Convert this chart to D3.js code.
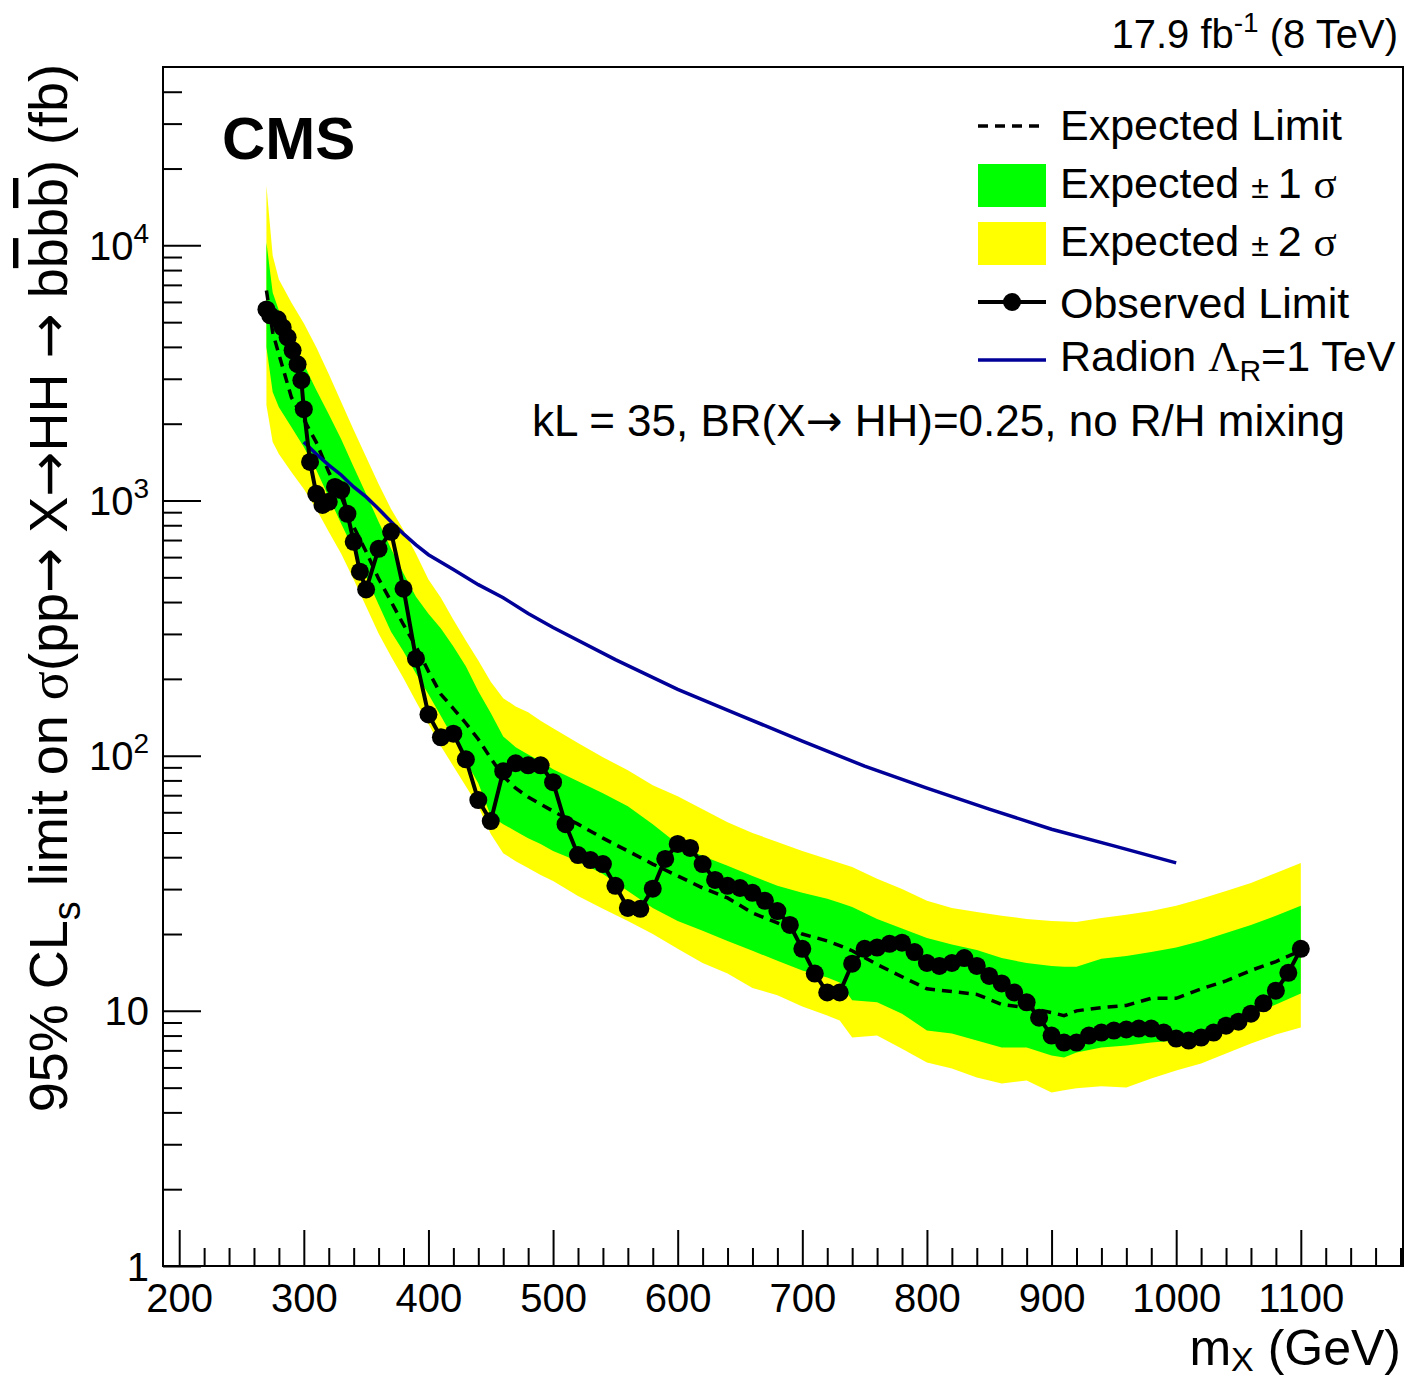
<!DOCTYPE html>
<html lang="en">
<head>
<meta charset="utf-8">
<title>CMS X to HH to bbbb limit</title>
<script src="https://d3js.org/d3.v7.min.js"></script>
<style>
body { margin: 0; background: #fff; }
text { font-family: "Liberation Sans", Arial, Helvetica, sans-serif; fill: #000; }
.axis path { display: none; }
.axis line { stroke: #000; stroke-width: 2; }
</style>
</head>
<body>
<script>
// observed limit (fb) vs m_X (GeV)
var obsMass = [270, 273, 279, 283, 287, 291, 295, 298, 300, 305, 310, 315, 320, 325, 330, 335, 340, 345, 350,
  360, 370, 380, 390, 400, 410, 420, 430, 440, 450, 460, 470, 480, 490, 500, 510, 520, 530, 540, 550,
  560, 570, 580, 590, 600, 610, 620, 630, 640, 650, 660, 670, 680, 690, 700, 710, 720, 730, 740, 750,
  760, 770, 780, 790, 800, 810, 820, 830, 840, 850, 860, 870, 880, 890, 900, 910, 920, 930, 940, 950,
  960, 970, 980, 990, 1000, 1010, 1020, 1030, 1040, 1050, 1060, 1070, 1080, 1090, 1100];
var obsLimit = [5610, 5320, 5130, 4770, 4360, 3880, 3420, 2960, 2280, 1416, 1062, 961, 988, 1130, 1099, 887, 689, 526, 448,
  647, 754, 451, 240, 145, 118, 122, 96.8, 67, 55.4, 86.9, 93.4, 91.7, 91.7, 78.7, 53.9, 40.8, 39.0, 37.6, 30.9,
  25.3, 25.1, 30.1, 39.4, 45.1, 43.5, 37.6, 32.6, 30.9, 30.3, 29.0, 27.0, 24.6, 21.7, 17.5, 14.0, 11.8, 11.8, 15.3, 17.5,
  17.7, 18.3, 18.5, 17.0, 15.4, 15.0, 15.4, 16.1, 15.0, 13.7, 12.8, 11.8, 10.8, 9.40, 8.00, 7.51, 7.51, 8.00, 8.22, 8.37,
  8.45, 8.52, 8.52, 8.22, 7.79, 7.65, 7.86, 8.22, 8.75, 9.07, 9.75, 10.7, 12.0, 14.1, 17.5];

// expected limit and bands, on their own mass grid
var expMass = [270, 275, 280, 290, 300, 310, 320, 330, 340, 350, 360, 370, 380, 390, 400, 410, 420, 430, 440, 450,
  460, 470, 480, 490, 500, 520, 540, 560, 580, 600, 620, 640, 660, 680, 700, 720, 730, 740, 760, 780,
  800, 820, 840, 860, 880, 900, 910, 920, 940, 960, 980, 1000, 1020, 1040, 1060, 1080, 1100];
var expLimit = [6660, 4560, 3740, 2540, 2080, 1690, 1294, 1033, 789, 630, 494, 402, 326, 268, 214, 174, 153, 134, 116, 97.7,
  83.0, 74.6, 68.8, 64.6, 60.6, 53.9, 47.5, 42.3, 37.6, 33.8, 30.3, 27.7, 24.2, 22.1, 20.0, 18.8, 18.0, 17.2, 15.2, 13.6,
  12.2, 11.9, 11.6, 10.6, 10.3, 9.84, 9.58, 10.0, 10.3, 10.5, 11.2, 11.2, 12.2, 13.1, 14.4, 15.6, 17.2];
var exp1Up = [10260, 6540, 5560, 4360, 3420, 2710, 2180, 1740, 1352, 1061, 825, 647, 517, 420, 360, 315, 268, 224, 179, 147,
  119, 108, 101, 95.1, 88.5, 79.4, 71.3, 63.4, 53.9, 45.1, 40.4, 37.0, 33.8, 30.9, 29.0, 27.5, 26.5, 25.5, 22.9, 21.0,
  19.3, 18.2, 17.3, 16.1, 15.4, 15.0, 14.9, 14.9, 16.0, 16.4, 17.0, 17.7, 18.8, 20.2, 21.7, 23.6, 25.8];
var exp1Down = [3990, 2660, 2320, 1940, 1620, 1318, 1033, 810, 641, 503, 391, 306, 256, 210, 174, 143, 117, 95.1, 78.0, 58.0,
  53.9, 50.6, 47.5, 45.1, 42.3, 38.6, 34.4, 29.5, 25.3, 22.5, 20.6, 18.8, 17.2, 15.7, 14.4, 13.5, 12.9, 11.0, 10.8, 9.75,
  8.37, 8.15, 7.65, 7.18, 7.18, 6.68, 6.56, 6.87, 7.18, 7.31, 7.51, 7.65, 8.00, 8.75, 9.58, 10.6, 11.7];
var exp2Up = [17140, 9120, 7350, 5970, 4950, 3990, 3130, 2430, 1890, 1480, 1160, 927, 767, 618, 490, 416, 341, 283, 236, 195,
  168, 156, 148, 137, 128, 112, 98.6, 87.7, 76.6, 69.4, 61.7, 54.9, 49.8, 45.9, 42.3, 39.4, 38.0, 36.6, 32.9, 30.0,
  27.0, 25.3, 24.4, 23.6, 22.9, 22.5, 22.4, 22.3, 23.1, 23.8, 24.6, 25.8, 27.5, 29.5, 31.7, 34.7, 38.0];
var exp2Down = [2365, 1694, 1521, 1294, 1110, 927, 754, 618, 490, 384, 301, 245, 201, 163, 133, 109, 90.9, 75.9, 63.4, 49.3,
  41.5, 38.6, 36.3, 34.1, 32.3, 28.2, 25.1, 22.5, 20.0, 17.5, 15.4, 14.0, 12.3, 11.5, 10.4, 9.58, 9.16, 7.86, 8.00, 7.11,
  6.27, 5.94, 5.48, 5.19, 5.33, 4.79, 4.88, 4.97, 5.06, 5.01, 5.43, 5.84, 6.22, 6.80, 7.45, 8.07, 8.60];

// radion cross section, Lambda_R = 1 TeV
var radMass = [300, 310, 320, 330, 340, 350, 360, 370, 380, 390, 400, 420, 440, 460, 480, 500, 550, 600, 650, 700, 750, 800, 850, 900, 950, 1000];
var radXs = [1694, 1521, 1377, 1259, 1130, 1033, 927, 825, 740, 670, 613, 536, 468, 416, 361, 318, 238, 182, 144, 114, 91, 74.6, 61.7, 51.5, 44.3, 38.0];

var xMajor = [200, 300, 400, 500, 600, 700, 800, 900, 1000, 1100];
var yMajor = [1, 10, 100, 1000, 10000];

var W = 1408, H = 1380;
var L = 163, R = 1403, T = 67, B = 1266;

var svg = d3.select("body").append("svg").attr("width", W).attr("height", H);

var x = d3.scaleLinear().domain([187, 1182]).range([L, R]);
var y = d3.scaleLog().domain([1, 50000]).range([B, T]);

var bandRows = expMass.map(function (m, i) {
  return { m: m, e: expLimit[i], u1: exp1Up[i], d1: exp1Down[i], u2: exp2Up[i], d2: exp2Down[i] };
});

var plot = svg.append("g");

plot.append("path").datum(bandRows)
  .attr("fill", "#ffff00")
  .attr("d", d3.area().x(function (d) { return x(d.m); })
    .y0(function (d) { return y(d.d2); }).y1(function (d) { return y(d.u2); }));

plot.append("path").datum(bandRows)
  .attr("fill", "#00ff00")
  .attr("d", d3.area().x(function (d) { return x(d.m); })
    .y0(function (d) { return y(d.d1); }).y1(function (d) { return y(d.u1); }));

plot.append("path").datum(bandRows)
  .attr("fill", "none").attr("stroke", "#000").attr("stroke-width", 3.5)
  .attr("stroke-dasharray", "10,7")
  .attr("d", d3.line().x(function (d) { return x(d.m); }).y(function (d) { return y(d.e); }));

plot.append("path").datum(radMass)
  .attr("fill", "none").attr("stroke", "#000099").attr("stroke-width", 3.5)
  .attr("d", d3.line().x(function (d) { return x(d); }).y(function (d, i) { return y(radXs[i]); }));

plot.append("path").datum(obsMass)
  .attr("fill", "none").attr("stroke", "#000").attr("stroke-width", 4)
  .attr("d", d3.line().x(function (d) { return x(d); }).y(function (d, i) { return y(obsLimit[i]); }));

plot.selectAll("circle.obs").data(obsMass).enter().append("circle")
  .attr("class", "obs")
  .attr("cx", function (d) { return x(d); })
  .attr("cy", function (d, i) { return y(obsLimit[i]); })
  .attr("r", 9).attr("fill", "#000");

// axes
var xMinor = [];
for (var v = 200; v <= 1180; v += 20) if (xMajor.indexOf(v) < 0) xMinor.push(v);
var yMinor = [];
for (var k = 0; k <= 4; k++) for (var j = 2; j <= 9; j++) if (j * Math.pow(10, k) < 50000) yMinor.push(j * Math.pow(10, k));

svg.append("g").attr("class", "axis").attr("transform", "translate(0," + B + ")")
  .call(d3.axisBottom(x).tickValues(xMinor).tickSize(-18).tickFormat(""));
var gx = svg.append("g").attr("class", "axis").attr("transform", "translate(0," + B + ")")
  .call(d3.axisBottom(x).tickValues(xMajor).tickSize(-36).tickPadding(18).tickFormat(d3.format("d")));
gx.selectAll("text").attr("font-size", 40).attr("font-family", "Liberation Sans, Arial, sans-serif").attr("fill", "#000");

svg.append("g").attr("class", "axis").attr("transform", "translate(" + L + ",0)")
  .call(d3.axisLeft(y).tickValues(yMinor).tickSize(-19).tickFormat(""));
var gy = svg.append("g").attr("class", "axis").attr("transform", "translate(" + L + ",0)")
  .call(d3.axisLeft(y).tickValues(yMajor).tickSize(-38).tickPadding(14).tickFormat(""));
gy.selectAll("text").each(function (d) {
  var t = d3.select(this).attr("font-size", 40).attr("font-family", "Liberation Sans, Arial, sans-serif")
    .attr("fill", "#000").attr("dy", "0.35em");
  var e = Math.round(Math.log10(d));
  if (e <= 1) {
    t.text(String(d));
  } else {
    t.append("tspan").text("10");
    t.append("tspan").attr("font-size", 28).attr("dy", -17).text(String(e));
  }
});

svg.append("rect").attr("x", L).attr("y", T).attr("width", R - L).attr("height", B - T)
  .attr("fill", "none").attr("stroke", "#000").attr("stroke-width", 2);

// texts
svg.append("text").attr("x", 222).attr("y", 159).attr("font-size", 60).attr("font-weight", "bold").text("CMS");

var lumi = svg.append("text").attr("x", 1398).attr("y", 48).attr("font-size", 40).attr("text-anchor", "end");
lumi.append("tspan").text("17.9 fb");
lumi.append("tspan").attr("font-size", 28).attr("dy", -16).text("-1");
lumi.append("tspan").attr("dy", 16).text(" (8 TeV)");

var xt = svg.append("text").attr("x", 1401).attr("y", 1365).attr("font-size", 50).attr("text-anchor", "end");
xt.append("tspan").text("m");
xt.append("tspan").attr("font-size", 34).attr("dy", 6).text("X");
xt.append("tspan").attr("dy", -6).text(" (GeV)");

var serif = "Liberation Serif, Times New Roman, serif";
var arrowFont = "DejaVu Sans, sans-serif";
var yt = svg.append("text").attr("transform", "translate(67,64) rotate(-90)")
  .attr("font-size", 54).attr("text-anchor", "end");
yt.append("tspan").text("95% CL");
yt.append("tspan").attr("font-size", 38).attr("dy", 13).text("s");
yt.append("tspan").attr("dy", -13).text(" limit on ");
yt.append("tspan").attr("font-family", serif).text("\u03c3");
yt.append("tspan").text("(pp");
yt.append("tspan").attr("font-family", arrowFont).text("\u2192");
yt.append("tspan").text(" X");
yt.append("tspan").attr("font-family", arrowFont).text("\u2192");
yt.append("tspan").text("HH ");
yt.append("tspan").attr("font-family", arrowFont).text("\u2192");
yt.append("tspan").text(" b");
yt.append("tspan").style("text-decoration", "overline").text("b");
yt.append("tspan").text("b");
yt.append("tspan").style("text-decoration", "overline").text("b");
yt.append("tspan").text(") (fb)");

// legend
var lg = svg.append("g");
var lx0 = 978, lx1 = 1046, ltx = 1060;
lg.append("line").attr("x1", lx0).attr("x2", lx1).attr("y1", 126).attr("y2", 126)
  .attr("stroke", "#000").attr("stroke-width", 3.5).attr("stroke-dasharray", "10,7");
lg.append("rect").attr("x", lx0).attr("y", 164).attr("width", lx1 - lx0).attr("height", 43).attr("fill", "#00ff00");
lg.append("rect").attr("x", lx0).attr("y", 222).attr("width", lx1 - lx0).attr("height", 43).attr("fill", "#ffff00");
lg.append("line").attr("x1", lx0).attr("x2", lx1).attr("y1", 302).attr("y2", 302)
  .attr("stroke", "#000").attr("stroke-width", 4);
lg.append("circle").attr("cx", (lx0 + lx1) / 2).attr("cy", 302).attr("r", 9).attr("fill", "#000");
lg.append("line").attr("x1", lx0).attr("x2", lx1).attr("y1", 360).attr("y2", 360)
  .attr("stroke", "#000099").attr("stroke-width", 3.5);

lg.append("text").attr("x", ltx).attr("y", 140).attr("font-size", 43).text("Expected Limit");
[["1", 198], ["2", 256]].forEach(function (p) {
  var t = lg.append("text").attr("x", ltx).attr("y", p[1]).attr("font-size", 43);
  t.append("tspan").text("Expected ");
  t.append("tspan").attr("font-size", 32).text("\u00b1 ");
  t.append("tspan").text(p[0] + " ");
  t.append("tspan").attr("font-family", serif).text("\u03c3");
});
lg.append("text").attr("x", ltx).attr("y", 318).attr("font-size", 43).text("Observed Limit");
var rt = lg.append("text").attr("x", ltx).attr("y", 371).attr("font-size", 43);
rt.append("tspan").text("Radion ");
rt.append("tspan").attr("font-family", serif).text("\u039b");
rt.append("tspan").attr("font-size", 30).attr("dy", 10).text("R");
rt.append("tspan").attr("dy", -10).text("=1 TeV");

var kt = svg.append("text").attr("x", 1345).attr("y", 436).attr("font-size", 44).attr("text-anchor", "end");
kt.append("tspan").text("kL = 35, BR(X");
kt.append("tspan").attr("font-family", arrowFont).text("\u2192");
kt.append("tspan").text(" HH)=0.25, no R/H mixing");
</script>
</body>
</html>
